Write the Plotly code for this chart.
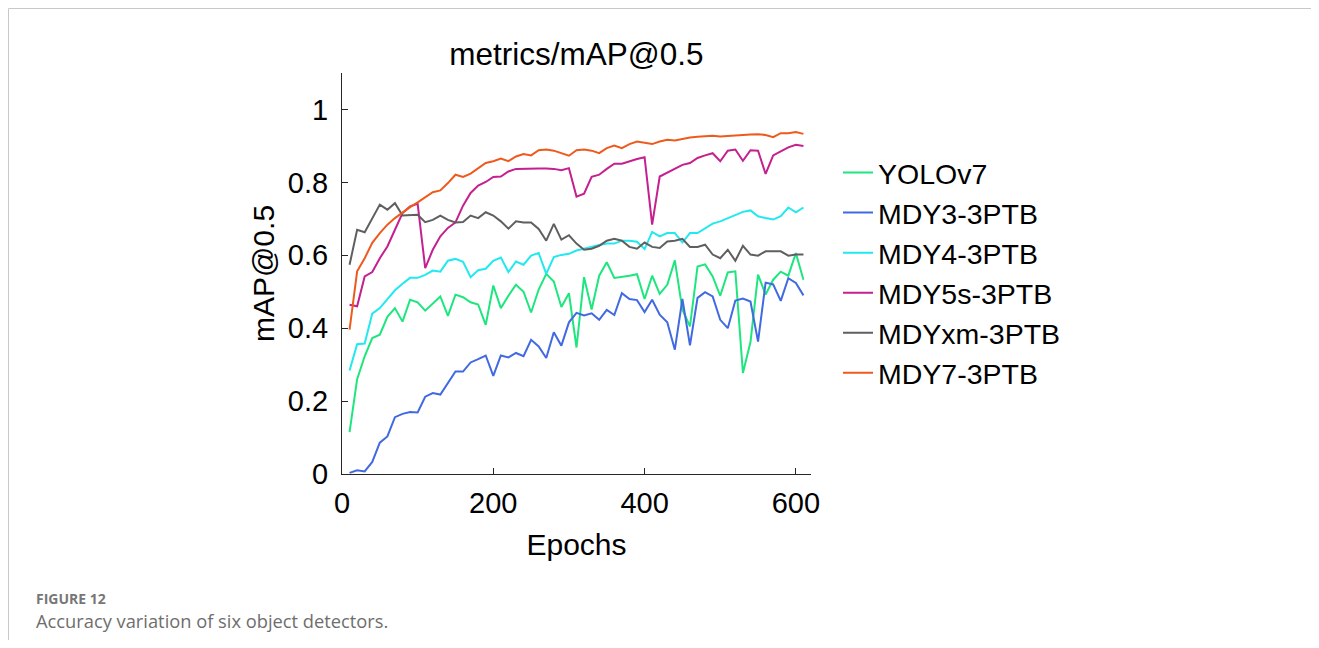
import plotly.graph_objects as go

epochs = [10, 20, 30, 40, 50, 60, 70, 80, 90, 100, 110, 120, 130, 140, 150, 160, 170, 180, 190, 200,
          210, 220, 230, 240, 250, 260, 270, 280, 290, 300, 310, 320, 330, 340, 350, 360, 370, 380, 390, 400,
          410, 420, 430, 440, 450, 460, 470, 480, 490, 500, 510, 520, 530, 540, 550, 560, 570, 580, 590, 600, 610]

yolov7 = [0.115, 0.26, 0.323, 0.373, 0.382, 0.431, 0.455, 0.418, 0.478, 0.471,
          0.448, 0.468, 0.487, 0.434, 0.492, 0.485, 0.471, 0.465, 0.409, 0.517,
          0.455, 0.489, 0.519, 0.5, 0.443, 0.506, 0.549, 0.528, 0.458, 0.496,
          0.347, 0.54, 0.451, 0.544, 0.581, 0.538, 0.54, 0.544, 0.548, 0.48,
          0.544, 0.494, 0.519, 0.586, 0.451, 0.405, 0.569, 0.575, 0.542, 0.489,
          0.553, 0.556, 0.277, 0.362, 0.547, 0.492, 0.533, 0.555, 0.544, 0.606, 0.533]

mdy3 = [0.003, 0.01, 0.007, 0.033, 0.086, 0.103, 0.156, 0.165, 0.17, 0.169,
        0.212, 0.222, 0.218, 0.251, 0.281, 0.281, 0.306, 0.315, 0.325, 0.269,
        0.325, 0.32, 0.332, 0.323, 0.368, 0.35, 0.318, 0.389, 0.352, 0.416,
        0.442, 0.435, 0.441, 0.423, 0.45, 0.436, 0.496, 0.48, 0.477, 0.444,
        0.478, 0.437, 0.416, 0.341, 0.48, 0.353, 0.483, 0.499, 0.487, 0.423,
        0.4, 0.476, 0.481, 0.473, 0.363, 0.525, 0.52, 0.475, 0.537, 0.524, 0.49]

mdy4 = [0.284, 0.356, 0.358, 0.44, 0.455, 0.478, 0.504, 0.522, 0.538, 0.538,
        0.546, 0.558, 0.555, 0.585, 0.59, 0.582, 0.54, 0.559, 0.563, 0.585,
        0.594, 0.554, 0.583, 0.574, 0.599, 0.606, 0.549, 0.595, 0.601, 0.604,
        0.613, 0.618, 0.624, 0.628, 0.632, 0.632, 0.64, 0.64, 0.637, 0.617,
        0.664, 0.652, 0.661, 0.661, 0.635, 0.661, 0.661, 0.675, 0.687, 0.693,
        0.702, 0.711, 0.719, 0.723, 0.707, 0.702, 0.698, 0.707, 0.731, 0.718, 0.731]

mdy5s = [0.464, 0.46, 0.542, 0.554, 0.592, 0.624, 0.67, 0.716, 0.734, 0.741,
         0.565, 0.615, 0.652, 0.675, 0.69, 0.736, 0.771, 0.791, 0.801, 0.815,
         0.816, 0.83, 0.837, 0.838, 0.838, 0.838, 0.838, 0.837, 0.833, 0.839,
         0.761, 0.769, 0.815, 0.821, 0.837, 0.851, 0.851, 0.858, 0.864, 0.869,
         0.684, 0.816, 0.826, 0.837, 0.848, 0.853, 0.867, 0.874, 0.88, 0.858,
         0.887, 0.89, 0.859, 0.888, 0.887, 0.823, 0.874, 0.885, 0.896, 0.903, 0.9]

mdyxm = [0.574, 0.67, 0.663, 0.702, 0.739, 0.725, 0.743, 0.709, 0.709, 0.711,
         0.691, 0.697, 0.709, 0.697, 0.69, 0.691, 0.709, 0.702, 0.718, 0.709,
         0.693, 0.673, 0.693, 0.69, 0.69, 0.672, 0.64, 0.686, 0.643, 0.655,
         0.632, 0.615, 0.618, 0.626, 0.64, 0.645, 0.64, 0.623, 0.618, 0.635,
         0.623, 0.62, 0.638, 0.64, 0.645, 0.623, 0.623, 0.629, 0.602, 0.592,
         0.615, 0.585, 0.626, 0.602, 0.599, 0.611, 0.611, 0.611, 0.599, 0.602, 0.602]

mdy7 = [0.396, 0.556, 0.592, 0.634, 0.661, 0.684, 0.702, 0.718, 0.732, 0.745,
        0.759, 0.773, 0.778, 0.798, 0.821, 0.815, 0.824, 0.839, 0.853, 0.858,
        0.865, 0.858, 0.871, 0.878, 0.874, 0.888, 0.89, 0.887, 0.88, 0.873,
        0.888, 0.89, 0.887, 0.88, 0.894, 0.901, 0.894, 0.905, 0.912, 0.908,
        0.905, 0.912, 0.917, 0.915, 0.92, 0.923, 0.925, 0.926, 0.928, 0.926,
        0.928, 0.929, 0.93, 0.931, 0.932, 0.93, 0.924, 0.935, 0.935, 0.938, 0.933]

series_names = ["YOLOv7", "MDY3-3PTB", "MDY4-3PTB", "MDY5s-3PTB", "MDYxm-3PTB", "MDY7-3PTB"]
series_values = [yolov7, mdy3, mdy4, mdy5s, mdyxm, mdy7]
series_colors = ["#1EE67E", "#4169E1", "#22E8EF", "#C4208F", "#5F5F5F", "#EE5A1C"]

x_ticks = [0, 200, 400, 600]
y_ticks = [0, 0.2, 0.4, 0.6, 0.8, 1]
y_tick_labels = ["0", "0.2", "0.4", "0.6", "0.8", "1"]

# page has an 8px body margin; work in reference-screen pixels and shift
OFF = 8
W, H = 1319 - 2 * OFF, 648 - 2 * OFF
L, R, T, B = 342 - OFF, 811 - OFF, 73 - OFF, 474 - OFF  # plot area (figure px)


def px(xp):
    return (xp - OFF - L) / (R - L)


def py(yp):
    return (B - (yp - OFF)) / (B - T)


FONT = "Liberation Sans, Arial, sans-serif"

fig = go.Figure()
for name, vals, col in zip(series_names, series_values, series_colors):
    fig.add_trace(go.Scatter(x=epochs, y=vals, mode="lines", name=name,
                             line=dict(color=col, width=2)))

fig.update_layout(
    width=W, height=H,
    margin=dict(l=L, r=W - R, t=T, b=H - B, pad=0),
    paper_bgcolor="white", plot_bgcolor="white",
    font=dict(family=FONT, size=29, color="#000000"),
    title=dict(text="metrics/mAP@0.5", x=0.5, xref="paper", xanchor="center",
               y=1 - (54 - OFF) / H, yref="container", yanchor="middle",
               font=dict(family=FONT, size=31.5, color="#000000")),
    xaxis=dict(range=[0, 620], tickvals=x_ticks, ticks="inside", ticklen=6,
               tickcolor="#262626", showline=True, linecolor="#262626", linewidth=1,
               showgrid=False, zeroline=False, tickfont=dict(size=29), ticklabelstandoff=3,
               title=dict(text="Epochs", font=dict(size=30), standoff=16)),
    yaxis=dict(range=[0, 1.1], tickvals=y_ticks, ticktext=y_tick_labels, ticks="inside",
               ticklen=6, tickcolor="#262626", showline=True, linecolor="#262626", linewidth=1,
               showgrid=False, zeroline=False, tickfont=dict(size=29), ticklabelstandoff=7,
               title=dict(text="mAP@0.5", font=dict(size=30), standoff=4)),
    legend=dict(x=px(838), y=py(147.5), xanchor="left", yanchor="top",
                font=dict(family=FONT, size=28.5, color="#000000"),
                bgcolor="rgba(0,0,0,0)", tracegroupgap=0, itemwidth=30),
    showlegend=True,
)

# figure frame (top and left edges)
fig.add_shape(type="line", xref="paper", yref="paper", x0=px(8.5), x1=px(1319), y0=py(8.5), y1=py(8.5),
              line=dict(color="#c8c8c8", width=1))
fig.add_shape(type="line", xref="paper", yref="paper", x0=px(8.5), x1=px(8.5), y0=py(8.5), y1=py(648),
              line=dict(color="#c8c8c8", width=1))

fig.add_annotation(text="<b>FIGURE 12</b>", xref="paper", yref="paper", x=px(34), y=py(598),
                   xanchor="left", yanchor="middle", showarrow=False,
                   font=dict(family="Open Sans, Lato, sans-serif", size=14, color="#777777"))
fig.add_annotation(text="Accuracy variation of six object detectors.", xref="paper", yref="paper",
                   x=px(34), y=py(620), xanchor="left", yanchor="middle", showarrow=False,
                   font=dict(family="Open Sans, Lato, sans-serif", size=18.3, color="#6e6e6e"))

fig.write_html("out.html")
